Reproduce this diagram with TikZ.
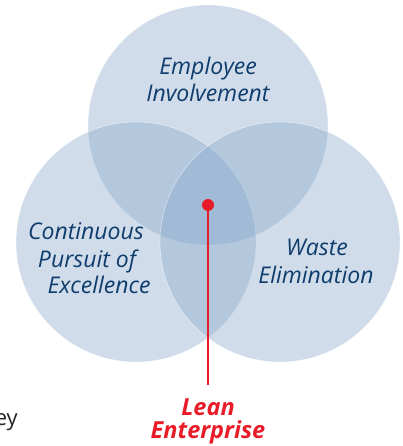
\documentclass[tikz,border=0pt]{standalone}
\usepackage{fontspec}
\setmainfont{Open Sans}
\definecolor{ringblue}{RGB}{132,164,200}
\definecolor{labelnavy}{RGB}{14,60,108}
\definecolor{leanred}{RGB}{232,28,40}
\begin{document}
\begin{tikzpicture}[x=1pt,y=-1pt,
  ring/.style={circle, minimum size=240pt, inner sep=0pt, fill=ringblue, fill opacity=0.38,
               draw=white, draw opacity=0.5, line width=0.6pt},
  label/.style={font=\fontsize{23}{27}\selectfont\itshape, text=labelnavy, inner sep=0pt, anchor=base},
  leanlabel/.style={font=\fontsize{23.5}{24}\selectfont\bfseries\itshape, text=leanred, inner sep=0pt, anchor=base}]
  \useasboundingbox (0,0) rectangle (402,446);
  % three overlapping circles
  \node[ring] (top) at (208,125) {};
  \node[ring] (left) at (136,242) {};
  \node[ring] (right) at (280,242) {};
  % circle labels
  \node[label] (emp1) at (208,75) {Employee};
  \node[label] (emp2) at (208,102) {Involvement};
  \node[label] (con1) at (86,239) {Continuous};
  \node[label] (con2) at (87,267) {Pursuit of};
  \node[label] (con3) at (99,293) {Excellence};
  \node[label] (was1) at (317,255) {Waste};
  \node[label] (was2) at (316,283) {Elimination};
  % centre marker and its caption
  \node[circle, fill=leanred, minimum size=12pt, inner sep=0pt] (dot) at (208,205) {};
  \coordinate (lineend) at (208,385);
  \draw[leanred, line width=1.5pt] (dot.center) -- (lineend);
  \node[leanlabel] (lean1) at (208,415) {Lean};
  \node[leanlabel] (lean2) at (208,438) {Enterprise};
  % clipped word at the left edge
  \node[font=\fontsize{22}{27}\selectfont, text=black!85, inner sep=0pt, anchor=base east] (ey) at (18,425) {ey};
\end{tikzpicture}
\end{document}
